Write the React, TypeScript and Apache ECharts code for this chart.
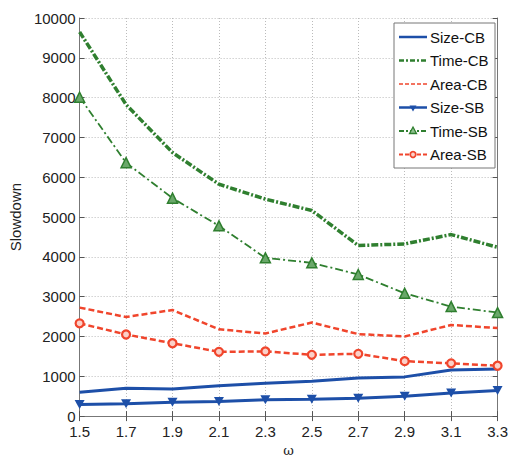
import React, { useEffect, useRef } from "react";
import * as echarts from "echarts";

const categories = ["1.5", "1.7", "1.9", "2.1", "2.3", "2.5", "2.7", "2.9", "3.1", "3.3"];
const sizeCB = [600, 700, 680, 760, 825, 875, 960, 985, 1160, 1180];
const timeCB = [9650, 7825, 6620, 5825, 5450, 5165, 4285, 4325, 4560, 4240];
const areaCB = [2725, 2490, 2665, 2180, 2075, 2350, 2060, 2000, 2290, 2210];
const sizeSB = [290, 310, 350, 365, 410, 425, 450, 500, 580, 640];
const timeSB = [8010, 6365, 5475, 4780, 3975, 3850, 3557, 3085, 2750, 2600];
const areaSB = [2330, 2050, 1830, 1615, 1625, 1540, 1565, 1380, 1325, 1265];
const legendNames = ["Size-CB", "Time-CB", "Area-CB", "Size-SB", "Time-SB", "Area-SB"];

const BLUE = "#1d4fa8";
const GREEN = "#2f7f2f";
const RED = "#f0452c";
const FONT = "Liberation Sans, Arial, sans-serif";

const lineStyles: any[] = [
  { stroke: BLUE, lineWidth: 2.5 },
  { stroke: GREEN, lineWidth: 2.5, lineDash: [5, 2, 2, 2] },
  { stroke: RED, lineWidth: 1.5, lineDash: [4, 2] },
  { stroke: BLUE, lineWidth: 2.5 },
  { stroke: GREEN, lineWidth: 1.8, lineDash: [5, 2, 2, 2] },
  { stroke: RED, lineWidth: 1.8, lineDash: [4, 2] },
];

function legendGraphic() {
  const x0 = 394, y0 = 23, w = 101, h = 145;
  const els: any[] = [
    { type: "rect", shape: { x: x0, y: y0, width: w, height: h }, style: { fill: "#fff", stroke: "#777", lineWidth: 1 }, z: 100 },
  ];
  legendNames.forEach((name, i) => {
    const cy = 37 + i * 23.5;
    els.push({ type: "line", shape: { x1: 399, y1: cy, x2: 427, y2: cy }, style: { ...lineStyles[i], fill: null }, z: 101 });
    if (i === 3) {
      els.push({ type: "polygon", shape: { points: [[409.5, cy - 2], [416.5, cy - 2], [413, cy + 4]] }, style: { fill: BLUE }, z: 102 });
    } else if (i === 4) {
      els.push({ type: "polygon", shape: { points: [[413, cy - 4], [416.5, cy + 2.5], [409.5, cy + 2.5]] }, style: { fill: "#8fc08f", stroke: GREEN, lineWidth: 1.3 }, z: 102 });
    } else if (i === 5) {
      els.push({ type: "circle", shape: { cx: 413, cy, r: 2.8 }, style: { fill: "#fbd0c8", stroke: RED, lineWidth: 1.8 }, z: 102 });
    }
    els.push({
      type: "text",
      x: 430,
      y: cy,
      style: { text: name, fontSize: 15, fontFamily: FONT, fill: "#111", textVerticalAlign: "middle", verticalAlign: "middle" },
      z: 102,
    });
  });
  return els;
}

export default function App() {
  const ref = useRef<HTMLDivElement>(null);
  useEffect(() => {
    const chart = echarts.init(ref.current!, undefined, { renderer: "svg" });
    const tick = { show: true, inside: true, length: 5, lineStyle: { color: "#555" } };
    const axisLine = { show: true, lineStyle: { color: "#777", width: 1 } };
    chart.setOption({
      animation: false,
      backgroundColor: "#fff",
      textStyle: { fontFamily: FONT },
      grid: { left: 74, right: 12, top: 18, bottom: 44 },
      graphic: legendGraphic(),
      xAxis: [
        {
          type: "category",
          data: categories,
          boundaryGap: false,
          axisLine,
          axisTick: { ...tick, alignWithLabel: true },
          axisLabel: { fontSize: 15, color: "#222", margin: 8, fontFamily: FONT },
          splitLine: { show: true, lineStyle: { color: "#bbb", type: [1, 2] } },
          name: "ω",
          nameLocation: "middle",
          nameGap: 21,
          nameTextStyle: { fontSize: 13, color: "#222", fontFamily: "DejaVu Serif, serif" },
        },
        {
          type: "category",
          data: categories,
          boundaryGap: false,
          position: "top",
          axisLine,
          axisTick: tick,
          axisLabel: { show: false },
          splitLine: { show: false },
        },
      ],
      yAxis: [
        {
          type: "value",
          min: 0,
          max: 10000,
          interval: 1000,
          axisLine,
          axisTick: tick,
          axisLabel: { fontSize: 15, color: "#222", margin: 4, fontFamily: FONT, formatter: (v: number) => String(v) },
          splitLine: { show: true, lineStyle: { color: "#bbb", type: [1, 2] } },
          name: "Slowdown",
          nameLocation: "middle",
          nameGap: 48,
          nameTextStyle: { fontSize: 15, color: "#222", fontFamily: FONT },
        },
        {
          type: "value",
          min: 0,
          max: 10000,
          interval: 1000,
          position: "right",
          axisLine,
          axisTick: tick,
          axisLabel: { show: false },
          splitLine: { show: false },
        },
      ],
      series: [
        { name: "Size-CB", type: "line", data: sizeCB, symbol: "none", color: BLUE, lineStyle: { color: BLUE, width: 3 } },
        { name: "Time-CB", type: "line", data: timeCB, symbol: "none", color: GREEN, lineStyle: { color: GREEN, width: 3.5, type: [7, 2, 2, 2] } },
        { name: "Area-CB", type: "line", data: areaCB, symbol: "none", color: RED, lineStyle: { color: RED, width: 2.5, type: [6, 3] } },
        {
          name: "Size-SB",
          type: "line",
          data: sizeSB,
          symbol: "path://M0,0 L10,0 L5,9 Z",
          symbolSize: [10, 9],
          color: BLUE,
          itemStyle: { color: BLUE },
          lineStyle: { color: BLUE, width: 3 },
        },
        {
          name: "Time-SB",
          type: "line",
          data: timeSB,
          symbol: "triangle",
          symbolSize: 10,
          color: GREEN,
          itemStyle: { color: "#6aa86a", borderColor: GREEN, borderWidth: 1.5 },
          lineStyle: { color: GREEN, width: 1.8, type: [8, 3, 2, 3] },
        },
        {
          name: "Area-SB",
          type: "line",
          data: areaSB,
          symbol: "circle",
          symbolSize: 8,
          color: RED,
          itemStyle: { color: "#fbd0c8", borderColor: RED, borderWidth: 2.2 },
          lineStyle: { color: RED, width: 2.5, type: [6, 3] },
        },
      ],
    });
    return () => chart.dispose();
  }, []);
  return <div ref={ref} style={{ width: 511, height: 462, position: "fixed", left: 0, top: 0 }} />;
}
